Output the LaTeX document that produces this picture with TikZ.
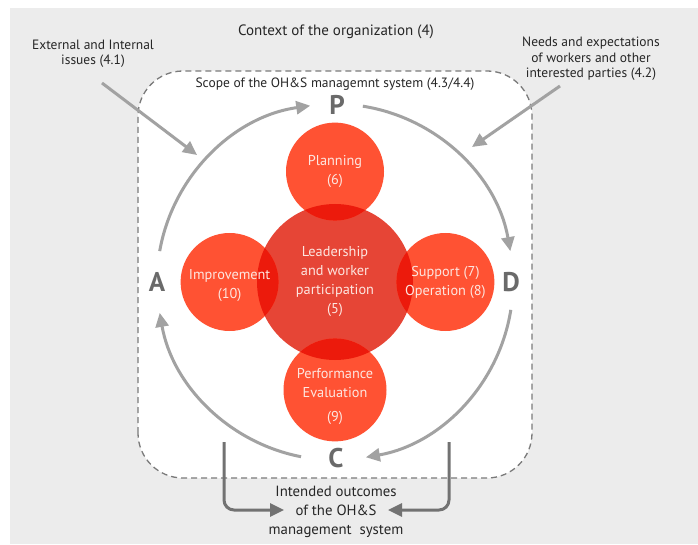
\documentclass[tikz,border=0pt]{standalone}
\usepackage{fontspec}
\setmainfont{PT Sans}
\usetikzlibrary{arrows.meta,positioning}
\definecolor{pagegray}{HTML}{ECECEC}
\definecolor{arcgray}{HTML}{A2A2A2}
\definecolor{darkgray}{HTML}{727272}
\definecolor{lettergray}{HTML}{6A6A6A}
\definecolor{boxgray}{HTML}{7A7A7A}
\definecolor{corered}{HTML}{E64536}
\definecolor{phasered}{HTML}{FF5233}
\definecolor{overlapred}{HTML}{EC1A0C}
\definecolor{softwhite}{HTML}{FDE6E0}
\tikzset{
    %Define standard arrow tip
    >={Triangle[length=14pt,width=13pt]},
    %Define style for circles
    core/.style={
           circle,
           fill=corered,
           minimum size=156pt,
           inner sep=0pt,
           align=center,
           text=softwhite,
           font=\fontsize{14.3}{19}\selectfont},
    phase/.style={
           circle,
           fill=phasered,
           minimum size=98pt,
           inner sep=0pt,
           align=center,
           text=softwhite,
           font=\fontsize{14.3}{19}\selectfont,
           path picture={\fill[overlapred] (lead.center) circle[radius=78pt];}},
    letter/.style={
           font=\fontsize{27}{27}\selectfont\bfseries,
           text=lettergray},
    note/.style={
           align=center,
           text=black!85,
           font=\fontsize{13.5}{15.5}\selectfont},
    % Define arrow styles
    turn/.style={
           ->,
           line width=3pt,
           draw=arcgray},
    feed/.style={
           ->,
           line width=3pt,
           draw=darkgray,
           rounded corners=10pt}
}
\begin{document}
\begin{tikzpicture}[x=1pt,y=1pt,node distance=-17pt]
\useasboundingbox (0,0) rectangle (698,544);
\fill[pagegray] (10,0) rectangle (698,536);
 %scope box
\draw[boxgray, line width=1.3pt, dash pattern=on 6pt off 4pt, fill=white, rounded corners=45pt]
    (138,66) rectangle (532,473);
 %texts
\node[note, font=\fontsize{15}{17}\selectfont](ctx) at (336,512){Context of the organization (4)};
\node[note](ext) at (93,490){External and Internal\\issues (4.1)};
\node[note](needs) at (591,485){Needs and expectations\\of workers and other\\interested parties (4.2)};
\node[note](scope) at (335,460){Scope of the OH\&S managemnt system (4.3/4.4)};
\node[note, font=\fontsize{14.8}{19}\selectfont](outc) at (336,32){Intended outcomes\\of the OH\&S\\management~~system};
 %circles
\node[core](lead) at (335,262){Leadership\\and worker\\participation\\(5)};
\node[phase, above=of lead](plan){Planning\\(6)};
\node[phase, left=-22pt of lead](impr){\rule{0pt}{18pt}Improvement\\(10)};
\node[phase, right=-17pt of lead](supp){Support (7)\\Operation (8)};
\node[phase, below=-22pt of lead](perf){\rule{0pt}{23pt}Performance\\Evaluation\\[5pt](9)};
 %letters
\node[letter](P) at (337,439){P};
\node[letter](A) at (157,262){A};
\node[letter](D) at (511,262){D};
\node[letter](C) at (336,86){C};
 %cycle arcs
\draw[turn] ([shift=(170:178pt)]lead.center) arc[start angle=170, end angle=98, radius=178pt];
\draw[turn] ([shift=(81:178pt)]lead.center) arc[start angle=81, end angle=10, radius=178pt];
\draw[turn] ([shift=(-9:178pt)]lead.center) arc[start angle=-9, end angle=-80, radius=178pt];
\draw[turn] ([shift=(-101:178pt)]lead.center) arc[start angle=-101, end angle=-170, radius=178pt];
 %inputs and outcomes
\coordinate (ext-s) at (102,461);
\coordinate (ext-t) at (197,389);
\coordinate (needs-s) at (560,458);
\coordinate (needs-t) at (472,397);
\draw[turn] (ext-s) -- (ext-t);
\draw[turn] (needs-s) -- (needs-t);
\coordinate (outl-s) at (224,102);
\coordinate (outl-t) at (284,34);
\coordinate (outr-s) at (449,102);
\coordinate (outr-t) at (388,34);
\draw[feed] (outl-s) |- (outl-t);
\draw[feed] (outr-s) |- (outr-t);
\end{tikzpicture}
\end{document}
